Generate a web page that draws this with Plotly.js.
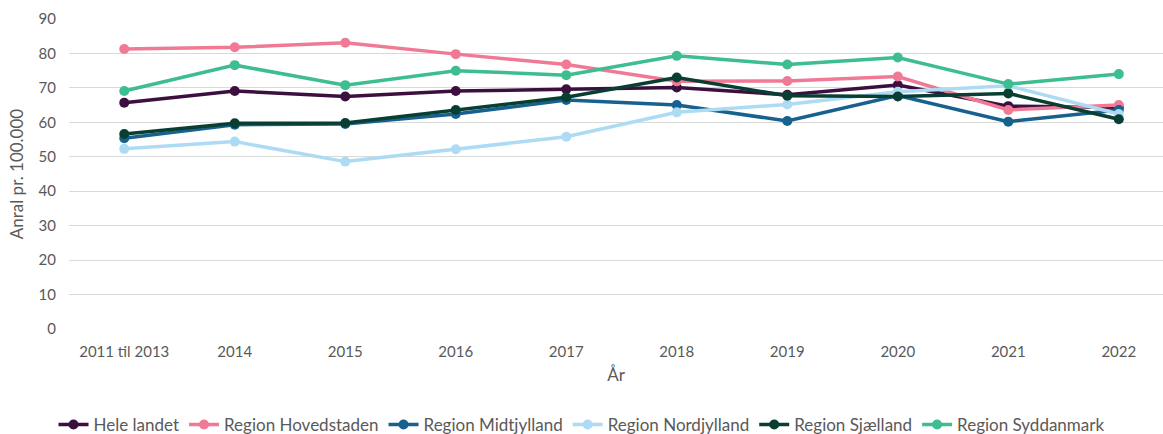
<!DOCTYPE html>
<html><head><meta charset="utf-8">
<script src="https://cdn.plot.ly/plotly-3.0.1.min.js"></script>
<style>html,body{margin:0;padding:0;background:#fff}#c{width:1163px;height:434px}</style>
</head><body><div id="c"></div>
<script>
const years = ["2011 til 2013","2014","2015","2016","2017","2018","2019","2020","2021","2022"];
const seriesNames = ["Hele landet","Region Hovedstaden","Region Midtjylland","Region Nordjylland","Region Sjælland","Region Syddanmark"];
const heleLandet   = [65.7, 69.1, 67.5, 69.1, 69.6, 70.1, 68.0, 70.8, 64.7, 64.4];
const hovedstaden  = [81.3, 81.8, 83.1, 79.8, 76.8, 71.9, 72.0, 73.3, 63.6, 65.0];
const midtjylland  = [55.4, 59.3, 59.5, 62.4, 66.5, 65.0, 60.4, 67.8, 60.2, 63.6];
const nordjylland  = [52.3, 54.4, 48.6, 52.2, 55.8, 62.9, 65.2, 68.9, 70.6, 62.4];
const sjaelland    = [56.6, 59.7, 59.8, 63.6, 67.3, 73.0, 67.7, 67.5, 68.4, 60.9];
const syddanmark   = [69.1, 76.6, 70.8, 75.0, 73.7, 79.3, 76.8, 78.8, 71.1, 74.0];
const seriesValues = [heleLandet, hovedstaden, midtjylland, nordjylland, sjaelland, syddanmark];
const colors = ["#3b0f3e","#f07a95","#17618f","#aedbf4","#093f33","#3dbd90"];

const traces = seriesNames.map((n,i)=>({
  type:'scatter', mode:'lines+markers', name:n, x:years, y:seriesValues[i],
  line:{color:colors[i], width:3.5}, marker:{color:colors[i], size:10}
}));

const font = "Lato, 'Open Sans', sans-serif";
Plotly.newPlot('c', traces, {
  width:1163, height:434,
  margin:{l:69, r:0, t:19, b:105},
  paper_bgcolor:'#fff', plot_bgcolor:'#fff',
  font:{family:font, color:'#595959', size:15},
  xaxis:{type:'category', range:[-0.5, 9.4], showgrid:false, zeroline:false, showline:false,
    automargin:false,
    ticks:'', tickfont:{size:15, color:'#595959'}, ticklabelstandoff:12,
    title:{text:'År', font:{size:17, color:'#595959'}, standoff:10}},
  yaxis:{range:[0,90], dtick:10, showgrid:true, gridcolor:'#d9d9d9', gridwidth:1.2,
    automargin:false,
    zeroline:false, showline:false, ticks:'', tickfont:{size:15, color:'#595959'},
    ticklabelstandoff:12,
    title:{text:'Anral pr. 100.000', font:{size:17, color:'#595959'}, standoff:10}},
  showlegend:true,
  legend:{orientation:'h', x:0.5, xref:'container', xanchor:'center',
    y:0.021, yref:'container', yanchor:'middle',
    font:{size:17, color:'#595959'}, tracegroupgap:0},
}, {displayModeBar:false, staticPlot:true});
</script></body></html>
